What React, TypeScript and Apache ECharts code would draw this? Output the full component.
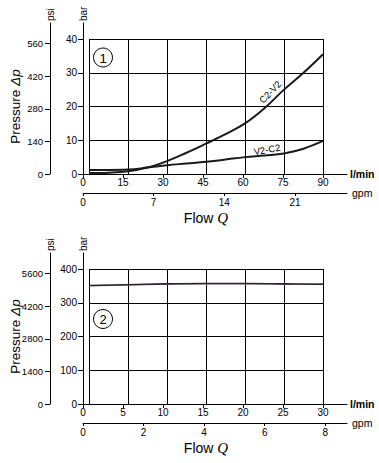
import React, { useEffect, useRef } from "react";
import * as echarts from "echarts";

// unit conversions
const BAR_TO_PSI = 14.5;
const GPM_TO_LPM = 3.785;

// Chart 1 data
const flow1 = [0, 7.5, 15, 22.5, 30, 37.5, 45, 52.5, 60, 67.5, 75, 82.5, 90];
const c2v2 = [0.3, 0.4, 0.8, 1.9, 3.8, 6.3, 9.0, 11.8, 15.0, 19.5, 25.0, 30.0, 35.5];
const v2c2 = [1.2, 1.2, 1.3, 1.9, 2.6, 3.1, 3.6, 4.3, 5.0, 5.5, 6.1, 7.5, 9.8];
const flowTicks1 = [0, 15, 30, 45, 60, 75, 90];
const gpmTicks1 = [0, 7, 14, 21];
const barTicks1 = [0, 10, 20, 30, 40];
const psiTicks1 = [0, 140, 280, 420, 560];

// Chart 2 data
const flow2 = [0, 5, 10, 15, 20, 25, 30];
const p2dark = [351, 353.5, 356, 357, 357, 356, 355];
const p2light = [350.5, 353, 355.5, 356.5, 356.5, 355.5, 354.5];
const flowTicks2 = [0, 5, 10, 15, 20, 25, 30];
const gpmTicks2 = [0, 2, 4, 6, 8];
const barTicks2 = [0, 100, 200, 300, 400];
const psiTicks2 = [0, 1400, 2800, 4200, 5600];

const NARROW = "'Liberation Sans Narrow', 'Arial Narrow', 'Liberation Sans', Arial, sans-serif";
const SANS = "'Liberation Sans', Arial, sans-serif";

const PLOT_LEFT = 83;
const PLOT_W = 240;
const PLOT_H = 135;
const EXT_W = 264;
const EXT_UP = 16;

const plain = (v: number) => String(v);

function buildPart(
  p: number,
  top: number,
  flowMax: number,
  flowInt: number,
  barMax: number,
  barInt: number,
  flowTicks: number[],
  gpmTicks: number[],
  barTicks: number[],
  psiTicks: number[]
) {
  const extFlowMax = (flowMax * EXT_W) / PLOT_W;
  const extBarMax = (barMax * (PLOT_H + EXT_UP)) / PLOT_H;
  const gPlot = p * 2;
  const gExt = p * 2 + 1;
  const grids = [
    { left: PLOT_LEFT, top, width: PLOT_W, height: PLOT_H },
    { left: PLOT_LEFT, top: top - EXT_UP, width: EXT_W, height: PLOT_H + EXT_UP },
  ];
  const label = { color: "#000", fontFamily: NARROW, fontSize: 10, formatter: plain };
  const axLine = { show: true, onZero: false, lineStyle: { color: "#000", width: 1 } };
  const xAxes = [
    {
      gridIndex: gPlot,
      type: "value",
      min: 0,
      max: flowMax,
      interval: flowInt,
      axisLine: { show: false, onZero: false },
      axisTick: { show: false },
      axisLabel: { show: false },
      splitLine: { show: true, lineStyle: { color: "#000", width: 1 } },
      name: "{a|Flow }{q|Q}",
      nameLocation: "middle",
      nameGap: 36,
      nameTextStyle: {
        rich: {
          a: { fontFamily: SANS, fontSize: 14, color: "#000" },
          q: { fontFamily: "'Liberation Serif', serif", fontStyle: "italic", fontSize: 15, color: "#000" },
        },
      },
    },
    {
      gridIndex: gExt,
      type: "value",
      position: "bottom",
      min: 0,
      max: extFlowMax,
      axisLine: axLine,
      axisTick: { show: true, length: 4, customValues: flowTicks, lineStyle: { color: "#000" } },
      axisLabel: { ...label, margin: 3, customValues: flowTicks },
      splitLine: { show: false },
      name: "l/min",
      nameLocation: "end",
      nameGap: 3,
      nameTextStyle: { fontFamily: NARROW, fontSize: 10.5, color: "#000", fontWeight: "bold" },
    },
    {
      gridIndex: gExt,
      type: "value",
      position: "bottom",
      offset: 19,
      min: 0,
      max: extFlowMax / GPM_TO_LPM,
      axisLine: axLine,
      axisTick: { show: true, length: 3, customValues: gpmTicks, lineStyle: { color: "#000" } },
      axisLabel: { ...label, margin: 4, customValues: gpmTicks },
      splitLine: { show: false },
      name: "gpm",
      nameLocation: "end",
      nameGap: 5,
      nameTextStyle: { fontFamily: NARROW, fontSize: 10.5, color: "#000" },
    },
  ];
  const yAxes = [
    {
      gridIndex: gPlot,
      type: "value",
      min: 0,
      max: barMax,
      interval: barInt,
      axisLine: { show: false, onZero: false },
      axisTick: { show: false },
      axisLabel: { show: false },
      splitLine: { show: true, lineStyle: { color: "#000", width: 1 } },
      name: "{a|Pressure }{b|Δp}",
      nameLocation: "middle",
      nameGap: 67,
      nameTextStyle: {
        rich: {
          a: { fontFamily: SANS, fontSize: 13.5, color: "#000" },
          b: { fontFamily: SANS, fontStyle: "italic", fontSize: 13.5, color: "#000" },
        },
      },
    },
    {
      gridIndex: gExt,
      type: "value",
      position: "left",
      min: 0,
      max: extBarMax,
      axisLine: axLine,
      axisTick: { show: true, length: 5, customValues: barTicks, lineStyle: { color: "#000" } },
      axisLabel: { ...label, margin: 6, customValues: barTicks },
      splitLine: { show: false },
      name: "bar",
      nameLocation: "end",
      nameRotate: 90,
      nameGap: 2,
      nameTextStyle: { fontFamily: NARROW, fontSize: 10, color: "#000" },
    },
    {
      gridIndex: gExt,
      type: "value",
      position: "left",
      offset: 33,
      min: 0,
      max: extBarMax * BAR_TO_PSI,
      axisLine: axLine,
      axisTick: { show: true, length: 5, customValues: psiTicks, lineStyle: { color: "#000" } },
      axisLabel: { ...label, fontSize: 9.5, margin: 7, customValues: psiTicks },
      splitLine: { show: false },
      name: "psi",
      nameLocation: "end",
      nameRotate: 90,
      nameGap: 2,
      nameTextStyle: { fontFamily: NARROW, fontSize: 10, color: "#000" },
    },
  ];
  return { grids, xAxes, yAxes };
}

export default function App() {
  const ref = useRef<HTMLDivElement>(null);
  useEffect(() => {
    if (!ref.current) return;
    const chart = echarts.init(ref.current, undefined, { renderer: "svg" });
    const a = buildPart(0, 39, 90, 15, 40, 10, flowTicks1, gpmTicks1, barTicks1, psiTicks1);
    const b = buildPart(1, 269, 30, 5, 400, 100, flowTicks2, gpmTicks2, barTicks2, psiTicks2);
    const line = (name: string, xs: number[], ys: number[], xi: number, yi: number, color: string, width: number, z: number) => ({
      name,
      type: "line",
      xAxisIndex: xi,
      yAxisIndex: yi,
      data: xs.map((x, i) => [x, ys[i]]),
      smooth: 0.4,
      symbol: "none",
      lineStyle: { color, width },
      z,
    });
    chart.setOption({
      animation: false,
      backgroundColor: "#fff",
      grid: [...a.grids, ...b.grids],
      xAxis: [...a.xAxes, ...b.xAxes],
      yAxis: [...a.yAxes, ...b.yAxes],
      series: [
        line("C2-V2", flow1, c2v2, 0, 0, "#1a1a1a", 2, 5),
        line("V2-C2", flow1, v2c2, 0, 0, "#1a1a1a", 2, 5),
        line("2b", flow2, p2light, 3, 3, "#9aa598", 1.5, 5),
        line("2a", flow2, p2dark, 3, 3, "#2a1f2a", 1.6, 6),
      ],
      graphic: [
        { type: "circle", shape: { cx: 103, cy: 57.5, r: 9.5 }, style: { fill: "none", stroke: "#000", lineWidth: 1 } },
        { type: "text", x: 103, y: 58, style: { text: "1", fontFamily: SANS, fontSize: 13, fill: "#000", align: "center", verticalAlign: "middle" } },
        { type: "circle", shape: { cx: 103, cy: 319, r: 9.5 }, style: { fill: "none", stroke: "#000", lineWidth: 1 } },
        { type: "text", x: 103, y: 319.5, style: { text: "2", fontFamily: SANS, fontSize: 13, fill: "#000", align: "center", verticalAlign: "middle" } },
        { type: "text", x: 270, y: 92, rotation: 0.8, style: { text: "C2-V2", fontFamily: NARROW, fontSize: 9.5, fill: "#000", align: "center", verticalAlign: "middle" } },
        { type: "text", x: 267, y: 149.5, rotation: 0.18, style: { text: "V2-C2", fontFamily: NARROW, fontSize: 9.5, fill: "#000", align: "center", verticalAlign: "middle" } },
      ],
    });
    return () => chart.dispose();
  }, []);
  return <div ref={ref} style={{ position: "absolute", left: 0, top: 0, width: 379, height: 463 }} />;
}
